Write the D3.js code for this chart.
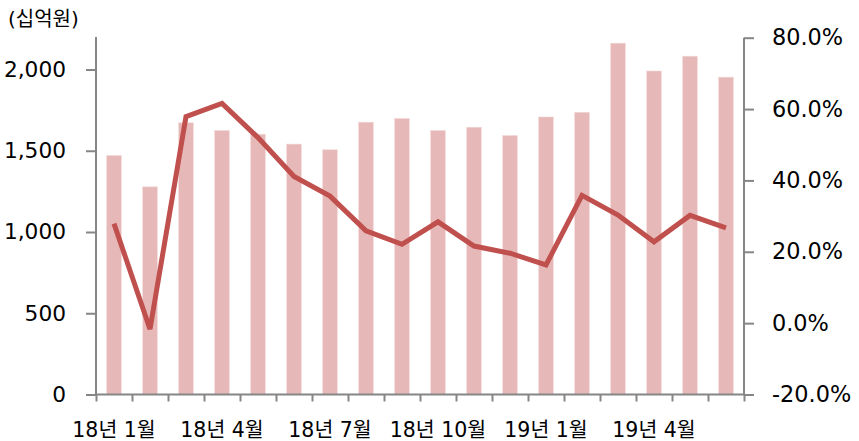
<!DOCTYPE html>
<html>
<head>
<meta charset="utf-8">
<script src="https://cdn.jsdelivr.net/npm/d3@7"></script>
<style>
  body { margin: 0; background: #fff; }
  svg text { font-family: "DejaVu Sans", "Noto Sans CJK KR", sans-serif; fill: #000; }
</style>
</head>
<body>
<svg id="chart" width="859" height="441"></svg>
<script>
// months 18.1 ~ 19.6
var months = ["18년 1월","18년 2월","18년 3월","18년 4월","18년 5월","18년 6월",
              "18년 7월","18년 8월","18년 9월","18년 10월","18년 11월","18년 12월",
              "19년 1월","19년 2월","19년 3월","19년 4월","19년 5월","19년 6월"];
// amount (십억원)
var amount = [1471, 1278, 1672, 1625, 1602, 1541, 1506, 1676, 1699, 1625, 1645, 1594,
              1708, 1737, 2162, 1991, 2082, 1953];
// growth (%)
var growth = [27.9, -1.7, 57.9, 61.6, 52.0, 41.1, 35.6, 25.9, 22.1, 28.4, 21.6, 19.6,
              16.3, 35.8, 30.3, 22.8, 30.2, 26.7];
var leftTicks = [0, 500, 1000, 1500, 2000];
var rightTicks = [-20, 0, 20, 40, 60, 80];
var shownLabels = ["18년 1월","18년 4월","18년 7월","18년 10월","19년 1월","19년 4월"];

var svg = d3.select("#chart");
var x0 = 96, x1 = 744, yTop = 37, yBot = 394.5;
var axisColor = "#868686";

var x = d3.scaleBand().domain(months).range([x0, x1]).paddingInner(0.59).paddingOuter(0.295);
var xi = d3.scaleLinear().domain([0, months.length]).range([x0, x1]);
var yL = d3.scaleLinear().domain([0, 2200]).range([yBot, yTop]);
var yR = d3.scaleLinear().domain([-20, 80]).range([yBot, 37.7]);

// bars
svg.append("g").selectAll("rect")
  .data(amount)
  .enter().append("rect")
  .attr("x", function(d, i) { return x(months[i]); })
  .attr("y", function(d) { return yL(d); })
  .attr("width", x.bandwidth())
  .attr("height", function(d) { return yBot - yL(d); })
  .style("fill", "#E6B9B8")
  .style("stroke", "#F2DCDB")
  .style("stroke-width", 0.6);

// line
var line = d3.line()
  .x(function(d, i) { return x(months[i]) + x.bandwidth() / 2; })
  .y(function(d) { return yR(d); });
svg.append("path")
  .datum(growth)
  .attr("d", line)
  .style("fill", "none")
  .style("stroke", "#C0504D")
  .style("stroke-width", 5)
  .style("stroke-linejoin", "miter");

// left axis
var gL = svg.append("g").attr("transform", "translate(" + x0 + ",0)")
  .call(d3.axisLeft(yL).tickValues(leftTicks).tickSize(10).tickPadding(20).tickFormat(d3.format(",")));
gL.select(".domain").attr("d", "M0," + yTop + "V" + yBot);

// right axis
var gR = svg.append("g").attr("transform", "translate(" + x1 + ",0)")
  .call(d3.axisRight(yR).tickValues(rightTicks).tickSize(10).tickPadding(18)
        .tickFormat(function(d) { return d.toFixed(1) + "%"; }));
gR.select(".domain").attr("d", "M0,37.7V" + yBot);

// bottom axis
var gB = svg.append("g").attr("transform", "translate(0," + yBot + ")")
  .call(d3.axisBottom(xi).tickValues(d3.range(months.length + 1)).tickSize(7).tickFormat(""));
gB.select(".domain").attr("d", "M" + x0 + ",0H" + x1);

[gL, gR, gB].forEach(function(g) {
  g.selectAll("path, line").style("stroke", axisColor).style("stroke-width", 2);
});
gL.selectAll("text").style("font-size", "21.7px").style("fill", "#000").style("font-family", "DejaVu Sans");
gR.selectAll("text").style("font-size", "22.4px").style("fill", "#000").style("font-family", "DejaVu Sans");

// month labels
svg.append("g").selectAll("text")
  .data(shownLabels)
  .enter().append("text")
  .attr("x", function(d) { return x(d) + x.bandwidth() / 2; })
  .attr("y", 437)
  .attr("text-anchor", "middle")
  .style("font-size", "20.5px")
  .text(function(d) { return d; });

// unit
svg.append("text").attr("x", 8).attr("y", 26).text("(십억원)").style("font-size", "20px");
</script>
</body>
</html>
